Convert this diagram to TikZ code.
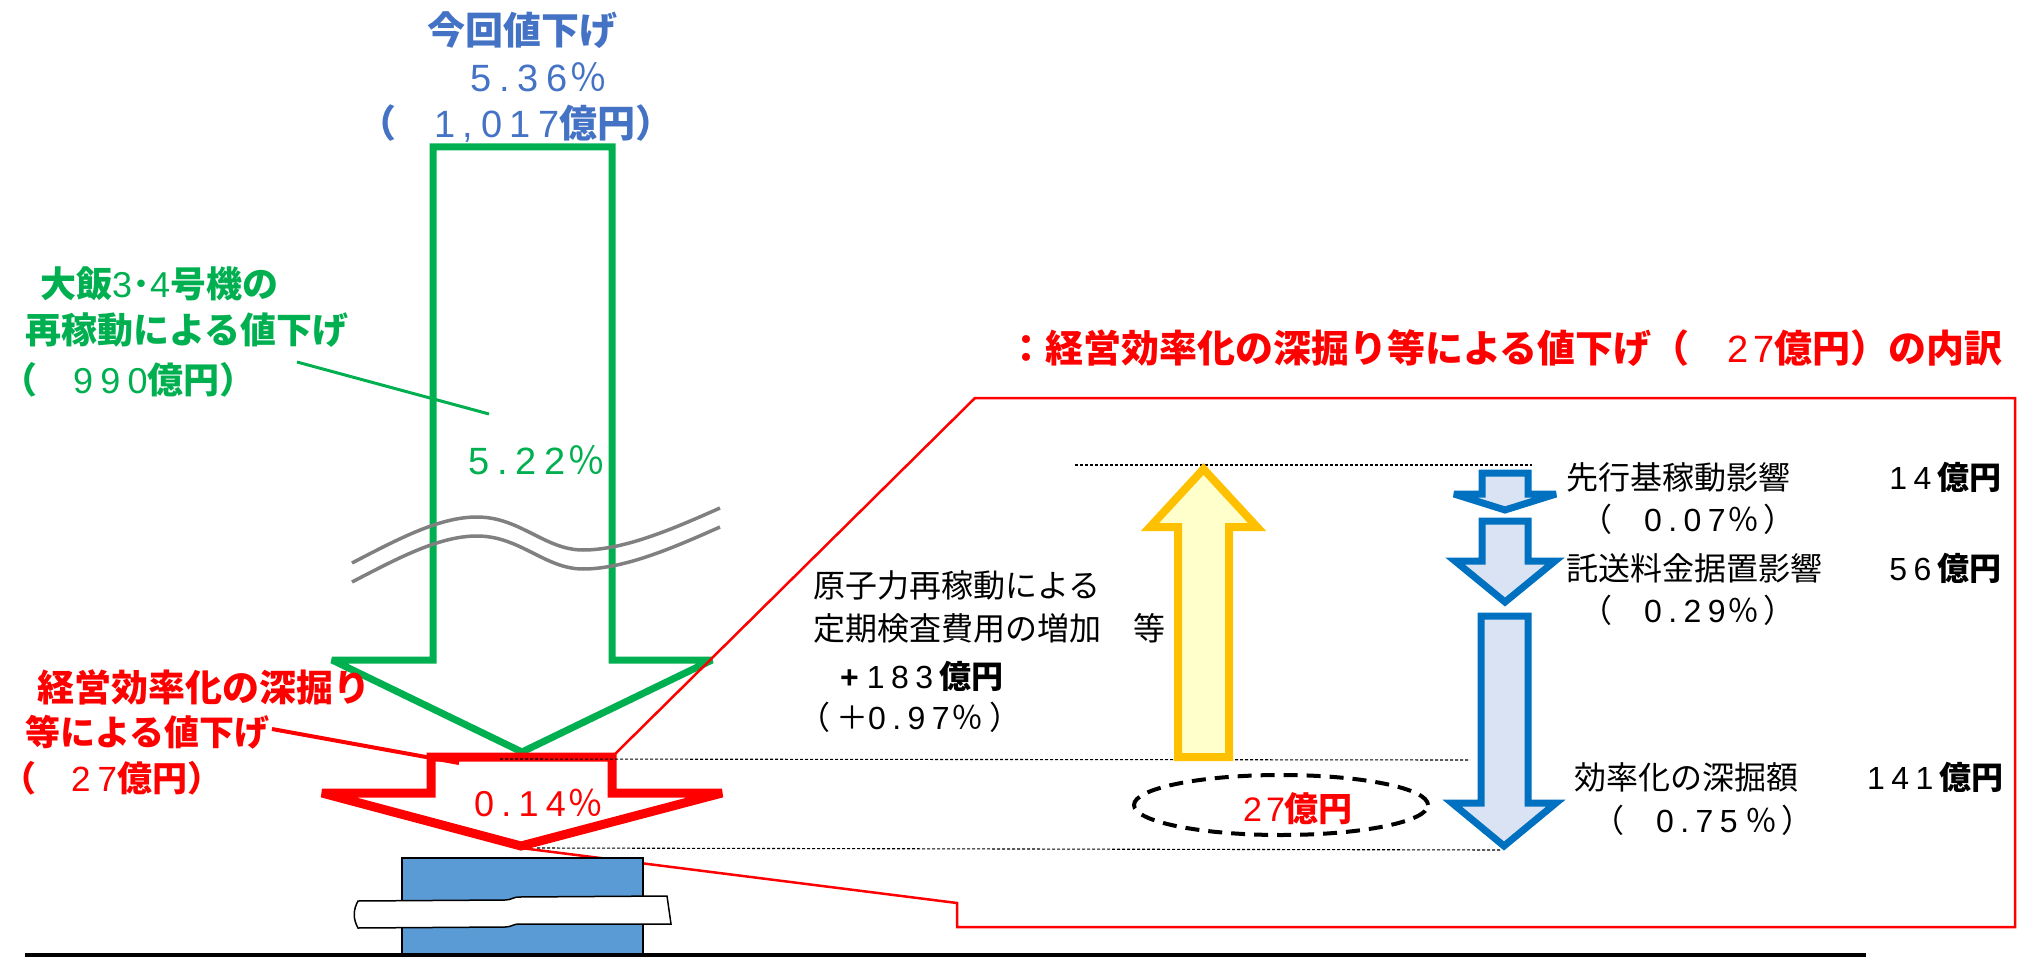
\documentclass[tikz,border=0pt]{standalone}
\usepackage{fontspec}
\setmainfont{Noto Sans CJK JP}
\newfontfamily\ar[LetterSpace=12]{Liberation Sans}
\newfontfamily\arw[LetterSpace=20]{Liberation Sans}
\newcommand\fsz[1]{\fontsize{#1}{#1}\selectfont}
\newcommand\dg[1]{{\ar\mdseries #1}}
\newcommand\dgw[1]{{\arw\mdseries #1}}
\definecolor{tblue}{HTML}{4472C4}
\definecolor{agreen}{HTML}{00B050}
\definecolor{ared}{HTML}{FF0000}
\definecolor{ayel}{HTML}{FFC000}
\definecolor{fyel}{HTML}{FFFFCC}
\definecolor{ablue}{HTML}{0070C0}
\definecolor{fblue}{HTML}{DAE3F3}
\definecolor{boxblue}{HTML}{5B9BD5}
\definecolor{wgray}{HTML}{808080}
\usetikzlibrary{shapes.geometric}
\tikzset{
  bluet/.style={inner sep=0pt, text=tblue},
  greent/.style={inner sep=0pt, text=agreen},
  redt/.style={inner sep=0pt, text=ared},
  blk/.style={inner sep=0pt, text=black, font=\fsz{32}},
  garrow/.style={draw=agreen, line width=7pt, fill=white, miter limit=3},
  rarrow/.style={draw=ared, line width=9pt, fill=white, miter limit=3},
  yarrow/.style={draw=ayel, line width=8pt, fill=fyel, miter limit=3},
  barrow/.style={draw=ablue, line width=7pt, fill=fblue, miter limit=3},
  wave/.style={draw=wgray, line width=3.5pt},
  guide/.style={draw=black, line width=1.1pt, dash pattern=on 3pt off 2pt},
  redbox/.style={draw=ared, line width=2.5pt},
}
\begin{document}
\begin{tikzpicture}[x=1pt,y=-1pt]
\useasboundingbox (0,0) rectangle (2018,957);
% green big arrow
\draw[garrow] (433,147) -- (612,147) -- (612,660) -- (712,660) -- (522,752) -- (332,660) -- (433,660) -- cycle;
% waves
\draw[wave] (352,563) .. controls (400,538) and (440,517) .. (477,517) .. controls (520,517) and (545,550) .. (583,550) .. controls (625,550) and (675,528) .. (720,508);
\draw[wave] (352,582) .. controls (400,557) and (440,536) .. (477,536) .. controls (520,536) and (545,569) .. (583,569) .. controls (625,569) and (675,547) .. (720,527);
% green leader
\coordinate (gl1) at (297,362);
\coordinate (gl2) at (489,414);
\draw[draw=agreen, line width=3pt] (gl1) -- (gl2);
% red box outline
\coordinate (rb0) at (612,757);
\coordinate (rb1) at (975,398);
\coordinate (rb2) at (2015,398);
\coordinate (rb3) at (2015,927);
\coordinate (rb4) at (957,927);
\coordinate (rb5) at (957,903);
\coordinate (rb6) at (521,848);
\draw[redbox] (rb0) -- (rb1) -- (rb2) -- (rb3) -- (rb4) -- (rb5) -- (rb6);
% red arrow
\draw[rarrow] (431,757) -- (612,757) -- (612,793) -- (722,793) -- (521,846) -- (322,793) -- (431,793) -- cycle;
% red leader
\coordinate (rl1) at (272,729);
\coordinate (rl2) at (459,763);
\draw[draw=ared, line width=4pt] (rl1) -- (rl2);
% blue box and strip
\draw[fill=boxblue, line width=2pt] (402,858) rectangle (643,956);
\draw[fill=white, line width=1.5pt] (358,901) -- (505,900) .. controls (512,900) and (512,897) .. (520,897) -- (667,896) -- (671,924) -- (520,924) .. controls (512,924) and (512,927) .. (505,927) -- (358,928) .. controls (353,919) and (353,910) .. cycle;
% ground line
\coordinate (gnd1) at (25,955);
\coordinate (gnd2) at (1866,955);
\draw[line width=5pt] (gnd1) -- (gnd2);
% dashed guides
\coordinate (d1a) at (1075,465); \coordinate (d1b) at (1532,465);
\coordinate (d2a) at (500,759); \coordinate (d2b) at (1470,760);
\coordinate (d3a) at (537,848); \coordinate (d3b) at (1500,850);
\draw[guide] (d1a) -- (d1b);
\draw[guide] (d2a) -- (d2b);
\draw[guide] (d3a) -- (d3b);
% yellow arrow
\draw[yarrow] (1178,757) -- (1178,527) -- (1150,527) -- (1203.5,469) -- (1257,527) -- (1229,527) -- (1229,757) -- cycle;
% blue arrows
\draw[barrow] (1482,473) -- (1528,473) -- (1528,494) -- (1556,494) -- (1505,510) -- (1454,494) -- (1482,494) -- cycle;
\draw[barrow] (1482,521) -- (1528,521) -- (1528,561) -- (1555,561) -- (1505,602) -- (1455,561) -- (1482,561) -- cycle;
\draw[barrow] (1481,616) -- (1528,616) -- (1528,803) -- (1556,803) -- (1504,846) -- (1452,803) -- (1481,803) -- cycle;
% ellipse
\node[draw=black, line width=4pt, dash pattern=on 14pt off 9pt, ellipse, minimum width=294pt, minimum height=60pt, inner sep=0pt] (ell) at (1281,805) {};
\node[redt, font=\fsz{34}\bfseries] (e27) at (1298,809) {\dg{27}億円};
% top blue texts
\node[bluet, font=\fsz{38}\bfseries] (ttl) at (522,30) {今回値下げ};
\node[bluet, font=\fsz{38}] (tpct) at (539,77) {\dgw{5.36}\hspace{2pt}％};
\node[bluet, font=\fsz{38}\bfseries] (tamt) at (516,124) {（　\dgw{1,017}億円）};
% green texts
\node[greent, anchor=west, font=\fsz{36}\bfseries] (g1) at (40,284) {大飯\dg{3}･\dg{4}号機の};
\node[greent, anchor=west, font=\fsz{36}\bfseries] (g2) at (25,330) {再稼動による値下げ};
\node[greent, anchor=west, font=\fsz{36}\bfseries] (g3) at (1,380) {（　\dgw{990}億円）};
\node[greent, font=\fsz{38}] (gpct) at (537,460) {\dgw{5.22}\hspace{2pt}％};
% red texts
\node[redt, anchor=west, font=\fsz{37}\bfseries] (r1) at (37,687) {経営効率化の深掘り};
\node[redt, anchor=west, font=\fsz{35}\bfseries] (r2) at (25,732) {等による値下げ};
\node[redt, anchor=west, font=\fsz{35}\bfseries] (r3) at (1,778) {（　\dgw{27}億円）};
\node[redt, font=\fsz{36}] (rpct) at (539,803) {\dgw{0.14}\hspace{2pt}％};
\node[redt, anchor=east, font=\fsz{38}\bfseries] (rt) at (2003,348) {：経営効率化の深掘り等による値下げ（　\dg{27}億円）の内訳};
% middle black texts
\node[blk, anchor=west] (m1) at (813,585) {原子力再稼動による};
\node[blk, anchor=west] (m2) at (813,628) {定期検査費用の増加　等};
\node[blk, anchor=west] (m3) at (840,676) {{\ar\bfseries +}\hspace{8pt}\dgw{183}\textbf{億円}};
\node[blk, anchor=west] (m4) at (798,717) {（\hspace{6pt}＋\dgw{0.97}\hspace{2pt}％\hspace{6pt}）};
% right black texts
\node[blk, anchor=west] (b1) at (1566,477) {先行基稼動影響};
\node[blk, anchor=east] (b1v) at (2002,477) {\dgw{14}\textbf{億円}};
\node[blk, anchor=west] (b1p) at (1580,519) {（　\dgw{0.07}\hspace{2pt}％\hspace{4pt}）};
\node[blk, anchor=west] (b2) at (1566,568) {託送料金据置影響};
\node[blk, anchor=east] (b2v) at (2002,568) {\dgw{56}\textbf{億円}};
\node[blk, anchor=west] (b2p) at (1580,610) {（　\dgw{0.29}\hspace{2pt}％\hspace{4pt}）};
\node[blk, anchor=west] (b3) at (1574,777) {効率化の深掘額};
\node[blk, anchor=east] (b3v) at (2004,777) {\dgw{141}\textbf{億円}};
\node[blk, anchor=west] (b3p) at (1592,820) {（　\dgw{0.75}\hspace{8pt}％\hspace{4pt}）};
\end{tikzpicture}
\end{document}
